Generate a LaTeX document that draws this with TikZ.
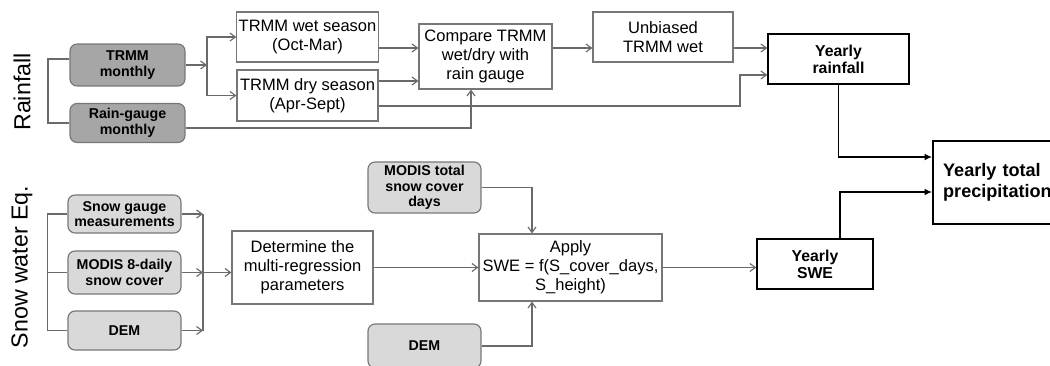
\documentclass[tikz,border=0pt]{standalone}
\usepackage{fontspec}
\setmainfont{Liberation Sans}
\usetikzlibrary{arrows.meta}
\definecolor{wire}{HTML}{6A6A6A}
\definecolor{frame}{HTML}{777777}
\definecolor{darkfill}{HTML}{A6A6A6}
\definecolor{lightfill}{HTML}{D9D9D9}
\begin{document}
\begin{tikzpicture}[x=0.02cm,y=-0.02cm,
  every node/.style={inner sep=1pt,align=center},
  plain/.style={draw=frame,line width=.65pt,fill=white,font=\fontsize{9.4}{10.8}\selectfont},
  darkbox/.style={draw=frame,line width=.65pt,fill=darkfill,rounded corners=4pt,font=\bfseries\fontsize{8.1}{8.9}\selectfont,minimum width=2.3cm},
  lightbox/.style={draw=frame,line width=.65pt,fill=lightfill,rounded corners=4pt,font=\bfseries\fontsize{8.1}{8.9}\selectfont,minimum width=2.26cm},
  result/.style={draw=black,line width=.8pt,fill=white,font=\bfseries\fontsize{9}{9.8}\selectfont},
  wireline/.style={wire,line width=.65pt},
  arr/.style={wireline,-{Straight Barb[length=1.1mm,width=1.6mm]}},
  blackarr/.style={black,line width=.8pt,-{Latex[length=1.5mm,width=1.4mm]}},
  sidelabel/.style={rotate=90,font=\fontsize{13.2}{15}\selectfont}]
\useasboundingbox (0,0) rectangle (1050,365);\clip (0,0) rectangle (1050,365);
% side labels
\node[sidelabel] (rainlbl) at (22,92){Rainfall};\node[sidelabel] (snowlbl) at (22,267){Snow water Eq.};
% rainfall branch
\node[darkbox,minimum height=.84cm] (trmm) at (127.5,65){TRMM\\monthly};
\node[darkbox,minimum height=.78cm] (gauge) at (127.5,123){Rain-gauge\\monthly};
\node[plain,minimum width=2.82cm,minimum height=1cm] (wet) at (307.5,37){TRMM wet season\\(Oct-Mar)};
\node[plain,minimum width=2.82cm,minimum height=1.02cm] (dry) at (307.5,95.5){TRMM dry season\\(Apr-Sept)};
\node[plain,minimum width=2.66cm,minimum height=1.3cm] (comp) at (485.5,56.5){Compare TRMM\\wet/dry with\\rain gauge};
\node[plain,minimum width=2.8cm,minimum height=1cm] (unb) at (663,37){Unbiased\\TRMM wet};
\node[result,minimum width=2.82cm,minimum height=1cm] (yrain) at (838.5,59){Yearly\\rainfall};
\node[draw=black,line width=1.3pt,fill=white,anchor=west,minimum height=1.66cm,text width=2.6cm,inner xsep=.2cm,align=left,font=\bfseries\fontsize{10.3}{12}\selectfont] (total) at (932,182.5){Yearly total\\precipitation};
\coordinate (rb) at (48,59);\draw[wireline] (trmm.west|-rb) -- (rb) |- (gauge.west);
\coordinate (fk) at (207,65);\draw[arr] (trmm.east) -- (fk);\draw[arr] (fk) |- (wet.west);\draw[arr] (fk) |- (dry.west);
\draw[arr] (wet.east|-0,48) -- (comp.west|-0,48);\draw[arr] (dry.east|-0,81) -- (comp.west|-0,81);
\draw[arr] (gauge.east|-0,128) -| (comp.south-|471,0);
\draw[arr] (dry.east|-0,106) -- (740,106) |- (yrain.west|-0,75);
\draw[arr] (comp.east|-0,48) -- (unb.west|-0,48);\draw[arr] (unb.east|-0,48) -- (yrain.west|-0,48);
\draw[blackarr] (yrain.south) |- (total.west|-0,157);
% snow water equivalent branch
\node[lightbox,minimum height=.76cm] (sgauge) at (124.5,214){Snow gauge\\measurements};
\node[lightbox,minimum height=.86cm] (modis8) at (124.5,272.5){MODIS 8-daily\\snow cover};
\node[lightbox,minimum height=.78cm] (dem1) at (124.5,330.5){DEM};
\node[plain,minimum width=2.82cm,minimum height=1.46cm] (det) at (302.5,267.5){Determine the\\multi-regression\\parameters};
\node[lightbox,minimum height=1.02cm] (modist) at (424.5,187.5){MODIS total\\snow cover\\days};
\node[lightbox,minimum height=.88cm] (dem2) at (424.5,346){DEM};
\node[plain,minimum width=3.66cm,minimum height=1.34cm] (apply) at (570.5,267.5){Apply\\SWE = f(S\_cover\_days,\\S\_height)};
\node[result,minimum width=2.32cm,minimum height=1cm] (yswe) at (815,264){Yearly\\SWE};
\draw[wireline] (sgauge.west) -- ++(-20,0) |- (dem1.west);\draw[wireline] (modis8.west) -- ++(-20,0);
\draw[arr] (sgauge.east) -- (sgauge.east-|203,0);\draw[arr] (modis8.east) -- (modis8.east-|203,0);\draw[arr] (dem1.east) -- (dem1.east-|203,0);
\draw[wireline] (sgauge.east-|203,0) -- (dem1.east-|203,0);\draw[arr] (modis8.east-|203,0) -- (det.west|-modis8.east);
\draw[arr] (det.east) -- (apply.west);
\draw[arr] (modist.east) -| (apply.north-|532,0);\draw[arr] (dem2.east) -| (apply.south-|532,0);
\draw[arr] (apply.east) -- (yswe.west|-apply.east);
\draw[blackarr] (yswe.north-|840,0) |- (total.west|-0,192);
\end{tikzpicture}
\end{document}
